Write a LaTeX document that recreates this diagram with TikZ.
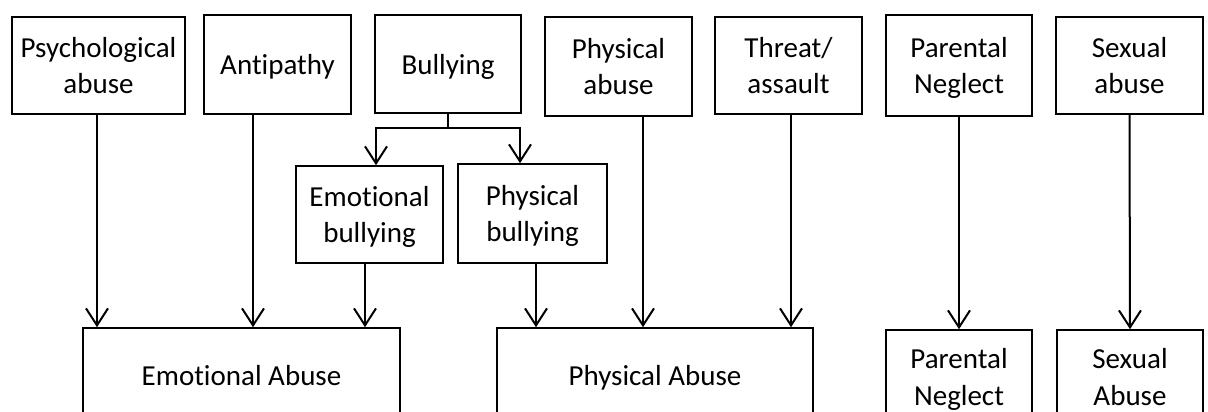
\documentclass[tikz,border=0pt]{standalone}
\usepackage{fontspec}
\setmainfont{Carlito}[Ligatures=NoCommon]
\usetikzlibrary{arrows.meta}
\begin{document}
\begin{tikzpicture}[x=1pt,y=-1pt,
  box/.style={draw=black, line width=1.6pt, inner sep=0pt, align=center, text depth=0pt,
    font=\fontsize{29}{35.5}\selectfont},
  arr/.style={draw=black, line width=2pt, -{Straight Barb[length=17pt,width=22pt,line width=2pt]}},
  conn/.style={draw=black, line width=2pt}]
\useasboundingbox (0,0) rectangle (1208,412);
\clip (0,0) rectangle (1208,412);
% top row
\node[box, minimum width=173pt, minimum height=97pt] (psych) at (98.5,65.5) {Psychological\\abuse};
\node[box, minimum width=147pt, minimum height=99pt] (anti) at (277.5,64.5) {Antipathy};
\node[box, minimum width=146pt, minimum height=98pt] (bully) at (448,64) {Bullying};
\node[box, minimum width=147pt, minimum height=99pt] (physab) at (618.5,66.5) {Physical\\abuse};
\node[box, minimum width=147pt, minimum height=97pt] (threat) at (788.5,65.5) {Threat/\\assault};
\node[box, minimum width=146pt, minimum height=101pt] (parent) at (959,65.5) {Parental\\Neglect};
\node[box, minimum width=147pt, minimum height=97pt] (sexual) at (1129.5,65.5) {Sexual\\abuse};
% middle row
\node[box, minimum width=147pt, minimum height=97pt] (embull) at (369.5,214.5) {Emotional\\bullying};
\node[box, minimum width=149pt, minimum height=99pt] (phbull) at (532.5,213.5) {Physical\\bullying};
% bottom row
\node[box, minimum width=317pt, minimum height=94pt] (emab) at (241.5,375) {Emotional Abuse};
\node[box, minimum width=316pt, minimum height=94pt] (phab) at (655,375) {Physical Abuse};
\node[box, minimum width=146pt, minimum height=93pt, font=\fontsize{29}{37}\selectfont] (pn) at (959,376.5) {Parental\\Neglect};
\node[box, minimum width=146pt, minimum height=93pt, font=\fontsize{29}{37}\selectfont] (sa) at (1130,376.5) {Sexual\\Abuse};
% bullying branch
\draw[conn] (bully.south) -- ++(0,14) coordinate (bj);
\draw[arr] (bj) -| ([xshift=6.5pt]embull.north);
\draw[arr] (bj) -| ([xshift=-12.5pt]phbull.north);
% into Emotional Abuse
\draw[arr] ([xshift=-1.5pt]psych.south) -- ([xshift=-1.5pt]psych.south |- emab.north);
\draw[arr] ([xshift=-24.5pt]anti.south) -- ([xshift=-24.5pt]anti.south |- emab.north);
\draw[arr] ([xshift=-4.5pt]embull.south) -- ([xshift=-4.5pt]embull.south |- emab.north);
% into Physical Abuse
\draw[arr] ([xshift=3.5pt]phbull.south) -- ([xshift=3.5pt]phbull.south |- phab.north);
\draw[arr] ([xshift=24.5pt]physab.south) -- ([xshift=24.5pt]physab.south |- phab.north);
\draw[arr] ([xshift=2.5pt]threat.south) -- ([xshift=2.5pt]threat.south |- phab.north);
% others
\draw[arr] (parent.south) -- (pn.north);
\draw[arr] (sexual.south) -- (sa.north);
\end{tikzpicture}
\end{document}
